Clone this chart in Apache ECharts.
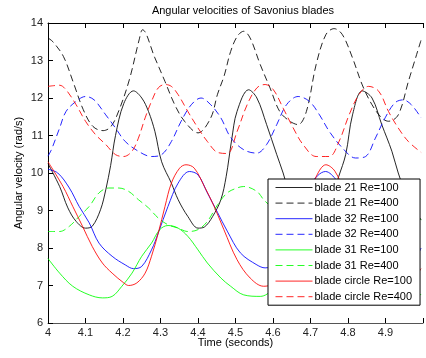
<!DOCTYPE html>
<html>
<head>
<meta charset="utf-8">
<script src="https://cdn.jsdelivr.net/npm/echarts@6/dist/echarts.min.js"></script>
<style>
html,body{margin:0;padding:0;background:#fff;}
#chart{width:426px;height:358px;}
</style>
</head>
<body>
<div id="chart"></div>
<script>
// ---- data: [time (s), angular velocity (rad/s)] ----
const blade21Re100 = [[4.0,10.25],[4.031,9.64],[4.053,9.07],[4.075,8.71],[4.1,8.53],[4.118,8.58],[4.14,9.02],[4.154,9.55],[4.167,10.2],[4.18,11.0],[4.202,11.85],[4.228,12.19],[4.25,12.0],[4.268,11.64],[4.285,11.11],[4.303,10.3],[4.329,9.73],[4.347,9.29],[4.373,8.84],[4.4,8.53],[4.417,8.56],[4.439,8.84],[4.461,9.29],[4.475,9.9],[4.49,10.9],[4.504,11.64],[4.535,12.22],[4.557,12.0],[4.583,11.29],[4.61,10.49],[4.627,10.0],[4.645,9.4],[4.665,8.9],[4.69,8.55],[4.71,8.55],[4.735,8.8],[4.755,9.3],[4.775,9.9],[4.794,10.5],[4.812,11.55],[4.838,12.19],[4.864,12.0],[4.89,11.29],[4.917,10.58],[4.934,10.0],[4.96,9.3],[4.978,9.0],[4.995,8.75]];
const blade21Re400 = [[4.0,13.6],[4.013,13.5],[4.041,13.11],[4.068,12.4],[4.094,11.69],[4.12,11.24],[4.147,11.13],[4.168,11.24],[4.19,11.69],[4.217,12.49],[4.243,13.55],[4.252,13.82],[4.285,13.07],[4.312,12.44],[4.338,11.82],[4.364,11.38],[4.4,11.07],[4.434,11.47],[4.452,12.1],[4.47,12.6],[4.487,13.24],[4.505,13.65],[4.522,13.78],[4.539,13.6],[4.566,12.89],[4.592,12.27],[4.618,11.64],[4.645,11.38],[4.667,11.29],[4.689,11.64],[4.715,12.89],[4.741,13.69],[4.763,13.85],[4.785,13.69],[4.812,13.07],[4.838,12.35],[4.864,11.82],[4.89,11.47],[4.908,11.38],[4.934,11.55],[4.961,12.44],[4.995,13.55]];
const blade32Re100 = [[4.0,10.1],[4.026,10.0],[4.057,9.6],[4.083,9.11],[4.11,8.67],[4.136,8.13],[4.171,7.78],[4.206,7.55],[4.228,7.45],[4.25,7.51],[4.276,7.95],[4.294,8.4],[4.32,9.11],[4.347,9.73],[4.377,10.04],[4.4,9.95],[4.425,9.47],[4.452,8.95],[4.478,8.45],[4.513,7.87],[4.557,7.55],[4.579,7.47],[4.6,7.55],[4.62,8.0],[4.66,8.9],[4.7,9.7],[4.74,10.04],[4.77,9.8],[4.8,9.3],[4.84,8.6],[4.88,7.9],[4.92,7.5],[4.95,7.45],[4.975,7.65],[4.995,8.0]];
const blade32Re400 = [[4.0,10.45],[4.009,10.62],[4.031,11.2],[4.048,11.64],[4.075,11.91],[4.1,12.04],[4.123,11.95],[4.154,11.55],[4.18,11.2],[4.206,10.84],[4.241,10.58],[4.276,10.44],[4.303,10.49],[4.329,10.84],[4.355,11.38],[4.382,11.82],[4.408,12.0],[4.434,11.82],[4.461,11.47],[4.487,10.95],[4.522,10.62],[4.557,10.53],[4.583,10.76],[4.61,11.29],[4.636,11.82],[4.667,12.04],[4.697,11.91],[4.724,11.55],[4.75,11.11],[4.785,10.67],[4.82,10.4],[4.847,10.44],[4.873,10.93],[4.899,11.47],[4.925,11.87],[4.947,11.95],[4.969,11.82],[4.995,11.47]];
const blade31Re100 = [[4.0,7.72],[4.031,7.33],[4.066,6.98],[4.11,6.75],[4.145,6.67],[4.171,6.71],[4.197,6.98],[4.224,7.33],[4.25,7.78],[4.276,8.13],[4.298,8.49],[4.32,8.6],[4.347,8.53],[4.373,8.31],[4.4,7.95],[4.425,7.6],[4.461,7.2],[4.487,6.98],[4.522,6.75],[4.566,6.71],[4.6,6.9],[4.64,7.4],[4.68,8.0],[4.71,8.45],[4.735,8.6],[4.76,8.5],[4.8,8.0],[4.84,7.5],[4.88,7.05],[4.92,6.8],[4.96,6.72],[4.995,6.76]];
const blade31Re400 = [[4.0,8.44],[4.031,8.44],[4.057,8.58],[4.083,8.84],[4.11,9.11],[4.136,9.47],[4.162,9.6],[4.189,9.6],[4.215,9.51],[4.241,9.29],[4.268,9.07],[4.294,8.8],[4.32,8.62],[4.347,8.53],[4.373,8.44],[4.4,8.49],[4.425,8.71],[4.452,9.15],[4.478,9.47],[4.504,9.6],[4.522,9.64],[4.557,9.51],[4.575,9.29],[4.6,9.05],[4.63,8.8],[4.66,8.6],[4.69,8.5],[4.72,8.45],[4.75,8.55],[4.78,8.85],[4.81,9.25],[4.84,9.55],[4.865,9.62],[4.89,9.5],[4.92,9.25],[4.95,9.05],[4.975,8.9],[4.995,8.75]];
const bladeCircleRe100 = [[4.0,10.3],[4.04,9.64],[4.066,9.11],[4.092,8.58],[4.118,8.04],[4.145,7.6],[4.171,7.33],[4.202,7.07],[4.215,7.0],[4.237,7.07],[4.259,7.33],[4.276,7.78],[4.294,8.4],[4.312,9.11],[4.329,9.73],[4.351,10.13],[4.368,10.22],[4.39,10.13],[4.417,9.64],[4.443,9.11],[4.469,8.49],[4.504,7.69],[4.539,7.2],[4.575,6.98],[4.6,7.05],[4.63,7.5],[4.66,8.3],[4.69,9.2],[4.715,9.9],[4.741,10.22],[4.765,10.05],[4.79,9.5],[4.82,8.8],[4.85,8.1],[4.88,7.5],[4.91,7.15],[4.935,7.0],[4.96,7.05],[4.98,7.25],[4.995,7.45]];
const bladeCircleRe400 = [[4.0,12.31],[4.031,12.34],[4.048,12.22],[4.075,11.82],[4.1,11.38],[4.127,11.02],[4.154,10.76],[4.18,10.49],[4.202,10.44],[4.224,10.58],[4.241,10.93],[4.259,11.47],[4.276,11.91],[4.294,12.27],[4.312,12.36],[4.329,12.31],[4.347,12.09],[4.373,11.64],[4.4,11.2],[4.425,10.84],[4.452,10.55],[4.478,10.52],[4.504,11.1],[4.531,11.82],[4.557,12.27],[4.579,12.36],[4.601,12.22],[4.627,11.73],[4.654,11.2],[4.68,10.76],[4.715,10.44],[4.75,10.44],[4.776,10.84],[4.803,11.55],[4.829,12.09],[4.855,12.31],[4.882,12.18],[4.908,11.64],[4.934,11.2],[4.961,10.84],[4.995,10.55]];

const seriesNames = ['blade 21 Re=100','blade 21 Re=400','blade 32 Re=100','blade 32 Re=400','blade 31 Re=100','blade 31 Re=400','blade circle Re=100','blade circle Re=400'];
const seriesData = [blade21Re100, blade21Re400, blade32Re100, blade32Re400, blade31Re100, blade31Re400, bladeCircleRe100, bladeCircleRe400];
const seriesColors = ['#000000','#000000','#0000ff','#0000ff','#00ff00','#00ff00','#ff0000','#ff0000'];
const seriesDashed = [false,true,false,true,false,true,false,true];

const titleText = 'Angular velocities of Savonius blades';
const xName = 'Time (seconds)';
const yName = 'Angular velocity (rad/s)';

const FONT = 'Liberation Sans, Arial, sans-serif';

const chart = echarts.init(document.getElementById('chart'), null, {renderer: 'canvas'});

const series = seriesNames.map((name, i) => ({
  name: name,
  type: 'line',
  data: seriesData[i],
  smooth: 0.35,
  symbol: 'none',
  clip: true,
  animation: false,
  lineStyle: {color: seriesColors[i], width: 1, opacity: 0.85, type: seriesDashed[i] ? [7,4] : 'solid'},
  itemStyle: {color: seriesColors[i]},
  z: 2
}));

const option = {
  animation: false,
  backgroundColor: '#ffffff',
  title: {
    text: titleText,
    left: 238, top: 0, textAlign: 'center',
    textStyle: {fontFamily: FONT, fontSize: 11, fontWeight: 'normal', color: '#000'}
  },
  grid: {left: 48, top: 23, right: -2, bottom: 35, containLabel: false},
  legend: {
    orient: 'vertical',
    left: 268, top: 179,
    padding: [3, 8, 3, 7],
    itemWidth: 37, itemHeight: 12, itemGap: 4.6,
    backgroundColor: '#ffffff',
    borderColor: '#000', borderWidth: 1,
    itemStyle: {opacity: 0},
    lineStyle: {width: 1},
    textStyle: {fontFamily: FONT, fontSize: 11, color: '#000', padding: [0,0,0,-3]},
    data: seriesNames,
    z: 10
  },
  xAxis: [{
    type: 'value', min: 4, max: 5, interval: 0.1,
    name: xName, nameLocation: 'middle', nameGap: 14, nameMoveOverlap: false,
    nameTextStyle: {fontFamily: FONT, fontSize: 11, color: '#000'},
    axisLine: {show: true, lineStyle: {color: '#555', width: 1}},
    axisTick: {show: true, inside: true, length: 5, lineStyle: {color: '#000'}},
    axisLabel: {fontFamily: FONT, fontSize: 11, color: '#222', margin: 4,
      formatter: v => (Math.abs(v - 5) < 1e-6 ? '' : String(+v.toFixed(1)))},
    splitLine: {show: false}
  }, {
    type: 'value', min: 4, max: 5, interval: 0.1, position: 'top',
    axisLine: {show: true, lineStyle: {color: '#000', width: 1}},
    axisTick: {show: true, inside: true, length: 5, lineStyle: {color: '#000'}},
    axisLabel: {show: false}, splitLine: {show: false}
  }],
  yAxis: [{
    type: 'value', min: 6, max: 14, interval: 1,
    name: yName, nameLocation: 'middle', nameGap: 24, nameRotate: 90, nameMoveOverlap: false,
    nameTextStyle: {fontFamily: FONT, fontSize: 11, color: '#000'},
    axisLine: {show: true, lineStyle: {color: '#000', width: 1}},
    axisTick: {show: true, inside: true, length: 5, lineStyle: {color: '#000'}},
    axisLabel: {fontFamily: FONT, fontSize: 11, color: '#222', margin: 5},
    splitLine: {show: false}
  }],
  series: series
};
chart.setOption(option);
</script>
</body>
</html>
